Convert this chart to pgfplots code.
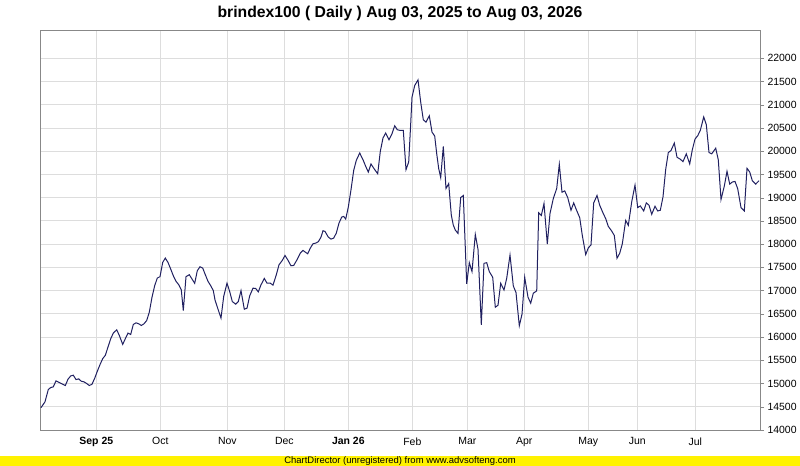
\documentclass[border=0pt]{standalone}
\usepackage{pgfplots}
\pgfplotsset{compat=1.18}
\usepackage{fontspec}
\setmainfont{Liberation Sans}
\definecolor{linec}{HTML}{202060}
\definecolor{gridc}{HTML}{DDDDDD}
\definecolor{framec}{HTML}{888888}
\begin{document}
\begin{tikzpicture}
\useasboundingbox (0bp,0bp) rectangle (800bp,466bp);
\fill[yellow] (0bp,0bp) rectangle (800bp,10bp);
\node[font=\fontsize{9.5}{10}\selectfont, inner sep=0] at (400bp,5bp) {ChartDirector (unregistered) from www.advsofteng.com};
\node[font=\fontsize{15.8}{18}\bfseries\selectfont, anchor=base, inner sep=0] at (400bp,448.5bp) {brindex100 ( Daily ) Aug 03, 2025 to Aug 03, 2026};
\begin{axis}[
  at={(40.5bp,36bp)}, anchor=south west,
  width=719.5bp, height=400bp, scale only axis,
  xmin=40.5, xmax=760, ymin=14000, ymax=22610,
  axis line style={framec},
  grid=major, major grid style={gridc, line width=0.9bp},
  ytick={14000,14500,...,22000},
  yticklabel pos=right, ytick pos=right,
  tick align=outside, major tick length=4bp,
  every tick/.style={framec},
  xtick={96.3,160.3,227.3,284.3,348.3,412.3,467.3,524.3,588.3,637.3,695.3},
  xticklabels={\textbf{Sep 25},Oct,Nov,Dec,\textbf{Jan 26},Feb,Mar,Apr,May,Jun,Jul},
  x tick style={draw=none},
  ticklabel style={font=\fontsize{10.5}{12}\selectfont},
  /pgf/number format/1000 sep={}, /pgf/number format/assume math mode=true,
  scaled y ticks=false,
]
\addplot[linec, line width=1bp, mark=none] coordinates {
(41,14480)(45,14607)(48.3,14871)(50.7,14914)(53.3,14929)(56,15057)(59.3,15021)(62.7,14986)(65.3,14957)(68,15093)(70.7,15164)(73.3,15179)(76,15086)(78.7,15100)(81.3,15050)(84,15036)(86.7,15000)(89.3,14957)(92,14986)(94.7,15114)(97.3,15264)(100,15407)(102.7,15536)(105.3,15607)(108,15786)(110.7,15964)(113.3,16086)(116.7,16157)(119.3,16036)(122.7,15843)(125.3,15964)(128,16086)(130.7,16057)(133.3,16271)(136,16307)(138.7,16286)(141.3,16250)(144,16286)(146.7,16357)(149.3,16536)(152,16857)(154.7,17107)(157.3,17271)(160,17300)(162.7,17607)(165.3,17700)(168,17607)(170.7,17464)(173.3,17321)(176,17200)(178.7,17129)(181.3,17014)(183.3,16571)(186,17300)(189.3,17343)(192,17250)(194.7,17157)(197.3,17429)(200,17514)(202.7,17486)(205.3,17343)(208,17200)(210.7,17107)(213.3,17000)
(215,16800)(217.7,16620)(221,16407)(223.7,16874)(227,17160)(229.7,16980)(232.3,16765)(235.7,16708)(238.3,16765)(241,17000)(244.3,16600)(247,16622)(249.7,16888)(253,17053)(255.7,17046)(258.3,16974)(261,17125)(264.3,17262)(267,17160)(270.3,17160)(273,17118)(276.3,17340)(279,17556)(282.3,17650)(285,17757)(287.7,17664)(291,17535)(293.7,17542)(297,17664)(300.3,17808)(303,17865)(305.7,17822)(307.7,17793)(310.3,17915)(313,18009)(315.7,18023)(318.3,18052)(321,18152)(323,18289)(325,18274)(328.3,18152)(331,18109)(333.7,18131)(336.3,18238)(339,18454)(341.7,18583)(343.7,18597)(345.7,18540)(348.3,18798)(351,19172)(353.7,19588)(356.3,19804)(359.7,19962)(363,19818)(365.7,19674)(368.3,19552)(371,19725)(374.3,19617)(377.7,19516)(380.3,19997)(383,20285)(385.7,20392)(389,20249)
(392,20377)(394.7,20549)(397.3,20463)(400,20449)(403.3,20449)(406,19604)(408.7,19769)(410.7,20592)(412,21164)(414.7,21414)(418,21536)(420.7,21057)(423.3,20677)(426,20627)(429.3,20763)(432,20413)(434.7,20327)(436.7,19948)(438.7,19626)(440.7,19433)(443.3,20105)(446,19197)(448.7,19304)(451.3,18624)(453.3,18410)(455.3,18303)(458,18231)(460.7,19004)(463.3,19047)(466.7,17144)(469.3,17602)(472,17409)(475.3,18210)(478,17888)(481.3,16264)(484,17587)(486.7,17602)(489.3,17409)(492.7,17287)(495.3,16643)(498,16686)(500.7,17158)(504,17015)(506.7,17265)(510,17766)(513.3,17101)(516,16958)(519.3,16243)(522,16493)(524.7,17287)(528,16858)(530.7,16729)(533.3,16944)(536.7,16994)(538.7,18675)(541.3,18617)(544,18875)(547.3,18002)(550,18660)(553.3,18982)(556.7,19197)(559.3,19719)(562,19118)(564.7,19147)
(567.7,19004)(571,18730)(573.7,18888)(576.3,18744)(579.7,18571)(582.3,18188)(585.7,17776)(588.3,17920)(591,17985)(593.7,18888)(597,19048)(599.7,18838)(603,18672)(605.7,18549)(608.3,18383)(611.7,18282)(614.3,18188)(617,17696)(619.7,17804)(622.3,18007)(625.7,18513)(628.3,18404)(631.7,18910)(635,19272)(637.7,18787)(640.3,18823)(643.7,18715)(646.3,18888)(649,18838)(651.7,18643)(655,18816)(657.7,18715)(660.3,18730)(663,19019)(665.7,19611)(668.3,19972)(671,20016)(674.3,20175)(677,19871)(680.3,19828)(683,19777)(686.3,19944)(689.7,19727)(692.3,20030)(695,20262)(697.7,20334)(700.3,20449)(703.7,20738)(706.3,20572)(709,19972)(711.7,19944)(715.7,20066)(718.3,19813)(721,18961)(724.3,19250)(727,19568)(729.7,19293)(732.3,19337)(735,19351)(737.7,19192)(741,18787)(744.3,18715)(747,19633)(749.7,19553)(752.3,19366)(755.7,19293)(759,19366)
};
\end{axis}
\end{tikzpicture}
\end{document}
